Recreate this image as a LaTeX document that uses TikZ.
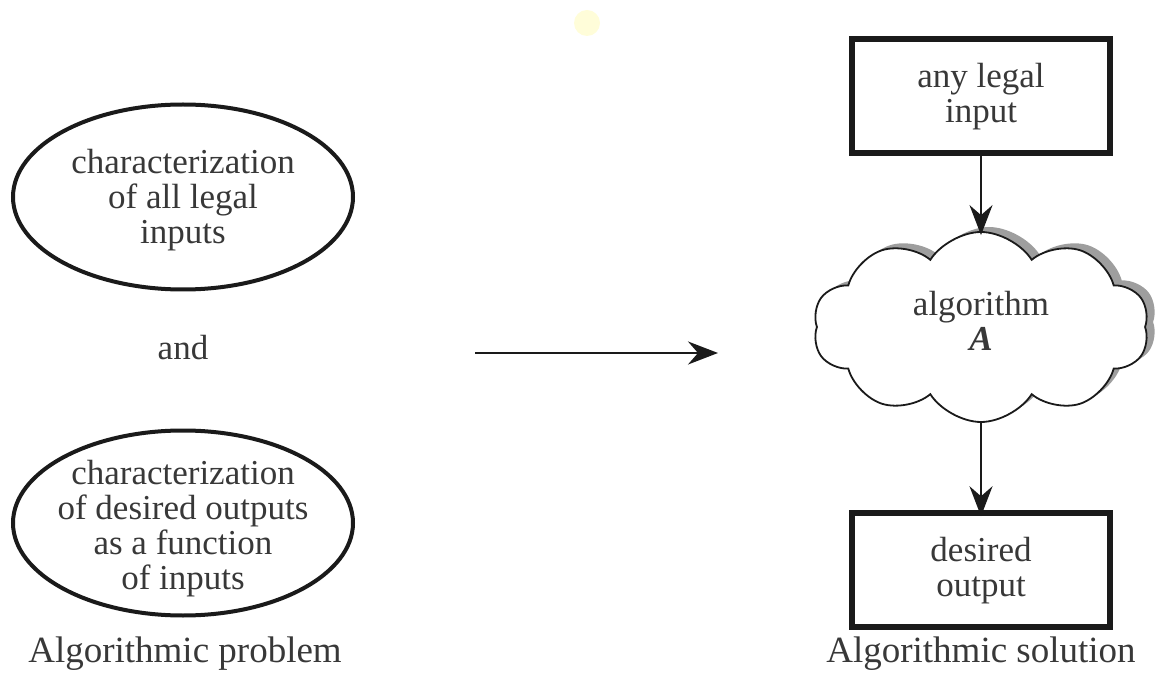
\documentclass[tikz,border=0pt]{standalone}
\usepackage{fontspec}
\setmainfont{Liberation Serif}
\usetikzlibrary{shapes.geometric,shapes.symbols,arrows.meta,shadows}
\definecolor{ink}{HTML}{1A1A1A}
\definecolor{txt}{HTML}{383838}
\tikzset{
  base/.style={font=\fontsize{35}{35}\selectfont, text=txt, align=center},
  oval/.style={ellipse, draw=ink, line width=4pt, minimum width=340pt, minimum height=185pt, inner sep=0pt},
  boxnode/.style={rectangle, draw=ink, line width=5.5pt, minimum width=258pt, minimum height=114pt, inner sep=0pt},
  flow/.style={draw=ink, line width=2pt, -{Stealth[length=30pt,width=23pt,inset=10pt]}},
  caption/.style={base, font=\fontsize{37}{37}\selectfont}
}
\begin{document}
\begin{tikzpicture}[x=1pt,y=-1pt]
\useasboundingbox (0,0) rectangle (1173,676);
% faint yellow mark at top
\node (blob) [circle, fill=yellow!15, minimum size=26pt, inner sep=0pt] at (587,23) {};
% left side
\node (e1) [oval] at (183,197) {};
\node (t1) [base] at (183,200) {characterization\\of all legal\\inputs};
\node (and) [base] at (183,348) {and};
\node (e2) [oval] at (183,523) {};
\node (t2) [base] at (183,529) {characterization\\of desired outputs\\as a function\\of inputs};
\node (cap1) [caption] at (185,654) {Algorithmic problem};
% middle arrow
\coordinate (m1) at (475,353);
\coordinate (m2) at (718,353);
\draw[flow] (m1) -- (m2);
% right side
\node (b1) [boxnode] at (981,96) {};
\node (tb1) [base] at (981,97) {any legal\\input};
\node (cl) [cloud, cloud puffs=10, cloud puff arc=115, aspect=1.75, draw=ink, fill=white, line width=1.8pt,
  minimum width=336pt, minimum height=190pt, inner sep=0pt,
  drop shadow={shadow xshift=8pt, shadow yshift=5pt, fill=black!38, opacity=1}] at (981,327) {};
\node (tc) [base] at (981,321) {algorithm\\\textbf{\textit{A}}};
\node (b2) [boxnode] at (981,570) {};
\node (tb2) [base] at (981,571) {desired\\output};
\node (cap2) [caption] at (981,654) {Algorithmic solution};
\draw[flow] (b1.south) -- ([yshift=-4pt]cl.north);
\draw[flow] (cl.south) -- ([yshift=-6pt]b2.north);
\end{tikzpicture}
\end{document}
